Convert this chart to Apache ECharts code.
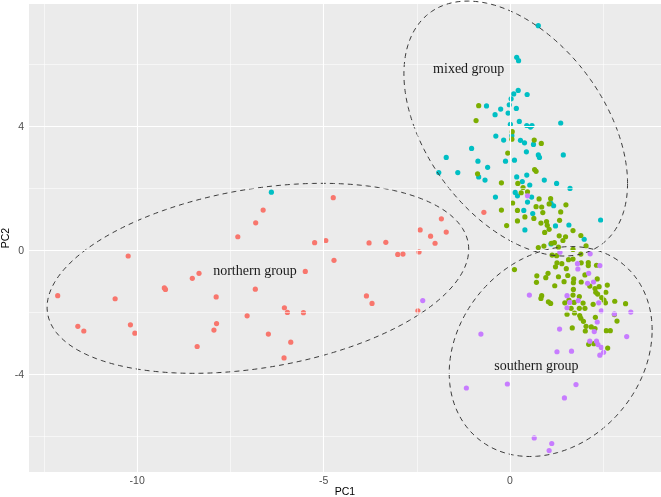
<!DOCTYPE html>
<html><head><meta charset="utf-8">
<script src="https://cdn.jsdelivr.net/npm/echarts@6/dist/echarts.min.js"></script>
<style>html,body{margin:0;padding:0;background:#fff}#c{width:661px;height:497px}</style>
</head><body><div id="c"></div>
<script>
// PC1, PC2 scores per colour group
const redPoints = [
[-12.13,-1.45],[-11.59,-2.44],[-11.43,-2.59],[-10.59,-1.55],[-10.24,-0.17],[-10.18,-2.39],[-10.06,-2.66],
[-9.27,-1.20],[-9.24,-1.25],[-8.52,-0.89],[-8.34,-0.73],[-8.39,-3.09],[-7.88,-1.49],[-7.87,-2.35],[-7.94,-2.56],
[-7.30,0.45],[-7.05,-2.10],[-6.82,0.90],[-6.83,-1.24],[-6.62,1.31],[-6.48,-2.69],[-4.74,1.71],[-5.24,0.26],
[-4.94,0.33],[-4.72,-0.31],[-5.49,-0.67],[-6.05,-1.84],[-5.97,-1.99],[-5.54,-2.00],[-3.78,0.25],[-3.33,0.27],
[-3.01,-0.12],[-2.87,-0.11],[-2.44,-0.04],[-2.41,0.67],[-2.13,0.47],[-2.01,0.24],[-1.84,1.03],[-1.71,0.60],
[-3.85,-1.46],[-3.70,-1.70],[-2.47,-1.94],[-5.88,-2.95],[-6.06,-3.46],[-0.70,1.24]
];
const cyanPoints = [
[0.76,7.26],[0.18,6.24],[0.23,6.13],[0.22,5.17],[0.10,5.06],[0.46,5.04],[0.03,4.90],[-0.63,4.67],[-0.25,4.57],
[-0.02,4.71],[0.17,4.59],[-0.40,4.39],[-0.05,4.44],[0.01,4.08],[0.25,4.17],[0.45,4.04],[0.55,3.99],[0.59,4.04],
[1.36,4.12],[-0.38,3.70],[-0.17,3.57],[0.05,3.71],[0.28,3.56],[0.39,3.48],[0.63,3.43],[-1.03,3.30],[0.44,3.19],
[0.76,3.09],[0.79,3.01],[1.43,3.09],[-1.71,3.01],[-0.86,2.89],[-0.12,2.89],[0.12,2.92],[-0.60,2.69],[-1.91,2.52],
[-1.40,2.52],[-0.84,2.38],[-0.67,2.28],[0.18,2.38],[0.45,2.44],[0.33,2.23],[0.53,2.12],[0.92,2.28],[1.25,2.17],
[1.61,2.01],[0.14,1.88],[0.20,1.77],[-0.39,1.73],[0.58,1.73],[0.47,1.57],[1.10,1.53],[1.17,1.45],[0.37,1.30],
[0.61,1.20],[1.22,0.80],[1.58,0.83],[0.40,0.67],[2.43,0.99],[1.99,0.37],[-6.40,1.89],[1.10,0.22]
];
const greenPoints = [
[-0.84,4.68],[-0.91,4.20],[0.06,3.84],[0.05,3.60],[0.65,3.57],[0.84,3.46],[-0.06,3.15],[0.66,2.62],[0.70,2.56],
[-0.87,2.48],[-0.23,2.19],[0.21,2.17],[0.35,2.04],[0.30,1.87],[0.47,1.90],[0.07,1.54],[0.78,1.67],[1.09,1.68],
[1.05,1.51],[1.50,1.48],[-0.23,1.31],[0.20,1.30],[0.70,1.42],[0.85,1.41],[0.88,1.23],[1.36,1.25],[0.40,1.09],
[0.64,1.04],[0.20,0.96],[0.83,0.89],[0.98,0.94],[1.00,0.82],[1.33,0.98],[-0.09,0.81],[0.93,0.59],[1.69,0.65],
[1.05,0.69],[1.32,0.48],[1.49,0.45],[1.90,0.49],[1.42,0.33],[1.11,0.24],[1.19,0.26],[1.30,0.12],[0.91,0.15],
[0.76,0.10],[1.69,0.04],[2.04,0.16],[1.25,-0.16],[1.13,-0.14],[1.90,-0.11],[1.57,-0.29],[1.69,-0.27],[1.26,-0.39],
[1.39,-0.42],[1.22,-0.52],[1.91,-0.39],[2.10,-0.38],[2.10,-0.48],[2.32,-0.47],[0.12,-0.61],[1.51,-0.58],[0.72,-0.81],
[1.02,-0.73],[0.96,-0.87],[0.71,-1.02],[1.30,-0.84],[1.55,-0.80],[1.71,-0.91],[2.01,-0.78],[1.70,-1.03],[1.45,-1.00],
[1.91,-1.01],[2.34,-0.91],[2.14,-1.14],[2.28,-1.22],[2.39,-1.16],[2.61,-1.11],[1.20,-1.13],[1.70,-1.25],[2.30,-1.34],
[2.35,-1.40],[2.57,-1.34],[0.85,-1.45],[0.83,-1.54],[1.69,-1.43],[1.86,-1.48],[2.46,-1.51],[1.03,-1.65],[1.09,-1.70],
[1.47,-1.68],[1.58,-1.59],[1.72,-1.67],[1.96,-1.69],[2.52,-1.59],[2.56,-1.68],[2.81,-1.63],[3.10,-1.71],[2.23,-1.73],
[1.64,-1.86],[1.86,-1.86],[2.01,-1.86],[1.53,-2.05],[1.73,-2.01],[1.87,-2.09],[1.90,-2.18],[2.29,-2.15],[2.80,-2.06],
[2.87,-2.27],[1.97,-2.28],[2.04,-2.44],[2.18,-2.46],[2.28,-2.51],[2.02,-2.59],[1.67,-2.49],[2.58,-2.58],[2.69,-2.58],
[2.25,-3.00],[2.11,-3.02],[2.62,-3.14]
];
const purplePoints = [
[-2.34,-1.61],[0.47,1.77],[1.34,-0.05],[2.15,-0.10],[1.81,-0.42],[2.41,-0.48],[1.82,-0.59],[2.11,-0.73],[2.08,-1.05],
[2.24,-1.01],[0.52,-1.43],[1.53,-1.45],[1.60,-1.67],[1.83,-1.61],[2.38,-1.68],[1.53,-1.84],[2.45,-1.94],[2.80,-2.04],
[3.24,-1.98],[2.34,-2.30],[2.26,-2.61],[1.33,-2.53],[3.13,-2.77],[-0.78,-2.69],[2.14,-2.92],[2.32,-2.92],[2.36,-3.03],
[2.45,-3.12],[2.51,-3.28],[2.41,-3.37],[1.26,-3.26],[1.65,-3.24],[-1.17,-4.43],[-0.07,-4.30],[1.77,-4.32],[1.46,-4.75],
[0.65,-6.04],[1.12,-6.22],[1.05,-6.45]
];
const xTicks = [-10, -5, 0];
const xMinor = [-12.5, -7.5, -2.5, 2.5];
const yTicks = [-4, 0, 4];
const yMinor = [-6, -2, 2, 6];
// hand-drawn group ellipses: centre, half extents along PC1/PC2, correlation
const ellipseNames = ['northern group', 'mixed group', 'southern group'];
const ellipseCx = [-6.761, 0.154, 1.091];
const ellipseCy = [-0.891, 3.941, -3.253];
const ellipseAx = [5.654, 2.999, 2.721];
const ellipseAy = [3.065, 4.113, 3.387];
const ellipseR  = [0.305, -0.43, 0.205];

function ellipsePath(i) {
  const pts = [], s = Math.sqrt(1 - ellipseR[i] * ellipseR[i]);
  for (let k = 0; k <= 360; k++) {
    const t = 2 * Math.PI * k / 360;
    pts.push([ellipseCx[i] + ellipseAx[i] * Math.cos(t),
              ellipseCy[i] + ellipseAy[i] * (ellipseR[i] * Math.cos(t) + s * Math.sin(t))]);
  }
  return pts;
}

const chart = echarts.init(document.getElementById('c'), null, {renderer: 'canvas'});
const majorStyle = {color: '#ffffff', width: 1.1, type: 'solid'};
const minorStyle = {color: '#ffffff', width: 0.55, type: 'solid'};
const gridLines = []
  .concat(xMinor.map(v => ({xAxis: v, lineStyle: minorStyle})))
  .concat(yMinor.map(v => ({yAxis: v, lineStyle: minorStyle})))
  .concat(xTicks.map(v => ({xAxis: v, lineStyle: majorStyle})))
  .concat(yTicks.map(v => ({yAxis: v, lineStyle: majorStyle})));

const pointSeries = (data, color) => ({
  type: 'scatter', data: data, symbol: 'circle', symbolSize: 5.2, z: 3,
  itemStyle: {color: color, opacity: 1}, silent: true
});

const labelFont = {fontFamily: '"Liberation Serif", "Times New Roman", serif', fontSize: 14, fill: '#1a1a1a'};

chart.setOption({
  animation: false,
  backgroundColor: '#ffffff',
  grid: {left: 29, right: 0, top: 4, bottom: 25, show: true, backgroundColor: '#EBEBEB', borderWidth: 0,
         containLabel: false, outerBoundsMode: 'none'},
  xAxis: {
    type: 'value', min: -12.9, max: 4.05,
    name: 'PC1', nameLocation: 'middle', nameGap: 15, nameMoveOverlap: false,
    nameTextStyle: {color: '#000', fontSize: 10.5, fontFamily: '"Liberation Sans", Arial, sans-serif', verticalAlign: 'top'},
    axisLine: {show: false},
    axisTick: {show: true, length: 3, lineStyle: {color: '#333', width: 1}, customValues: xTicks},
    axisLabel: {color: '#4d4d4d', fontSize: 10.5, margin: 4, fontFamily: '"Liberation Sans", Arial, sans-serif', customValues: xTicks},
    splitLine: {show: false}
  },
  yAxis: {
    type: 'value', min: -7.14, max: 7.96,
    name: 'PC2', nameLocation: 'middle', nameGap: 17, nameRotate: 90, nameMoveOverlap: false,
    nameTextStyle: {color: '#000', fontSize: 10.5, fontFamily: '"Liberation Sans", Arial, sans-serif'},
    axisLine: {show: false},
    axisTick: {show: true, length: 3, lineStyle: {color: '#333', width: 1}, customValues: yTicks},
    axisLabel: {color: '#4d4d4d', fontSize: 10.5, margin: 5, fontFamily: '"Liberation Sans", Arial, sans-serif', customValues: yTicks},
    splitLine: {show: false}
  },
  series: [
    {type: 'line', data: [], z: 1, silent: true,
     markLine: {silent: true, symbol: 'none', label: {show: false}, animation: false, data: gridLines}},
    pointSeries(cyanPoints, '#00BFC4'),
    pointSeries(redPoints, '#F8766D'),
    pointSeries(greenPoints, '#7CAE00'),
    pointSeries(purplePoints, '#C77CFF')
  ].concat(ellipseNames.map((n, i) => ({
    type: 'line', name: n, data: ellipsePath(i), showSymbol: false, symbol: 'none', clip: false, z: 4, silent: true,
    lineStyle: {color: '#3a3a3a', width: 1, type: [5, 4]}
  }))),
  graphic: [
    {type: 'text', x: 468.7, y: 69, z: 10, style: Object.assign({text: 'mixed group', textAlign: 'center', textVerticalAlign: 'middle'}, labelFont)},
    {type: 'text', x: 255, y: 271.7, z: 10, style: Object.assign({text: 'northern group', textAlign: 'center', textVerticalAlign: 'middle'}, labelFont)},
    {type: 'text', x: 536.4, y: 366.7, z: 10, style: Object.assign({text: 'southern group', textAlign: 'center', textVerticalAlign: 'middle'}, labelFont)}
  ]
});
</script>
</body></html>
